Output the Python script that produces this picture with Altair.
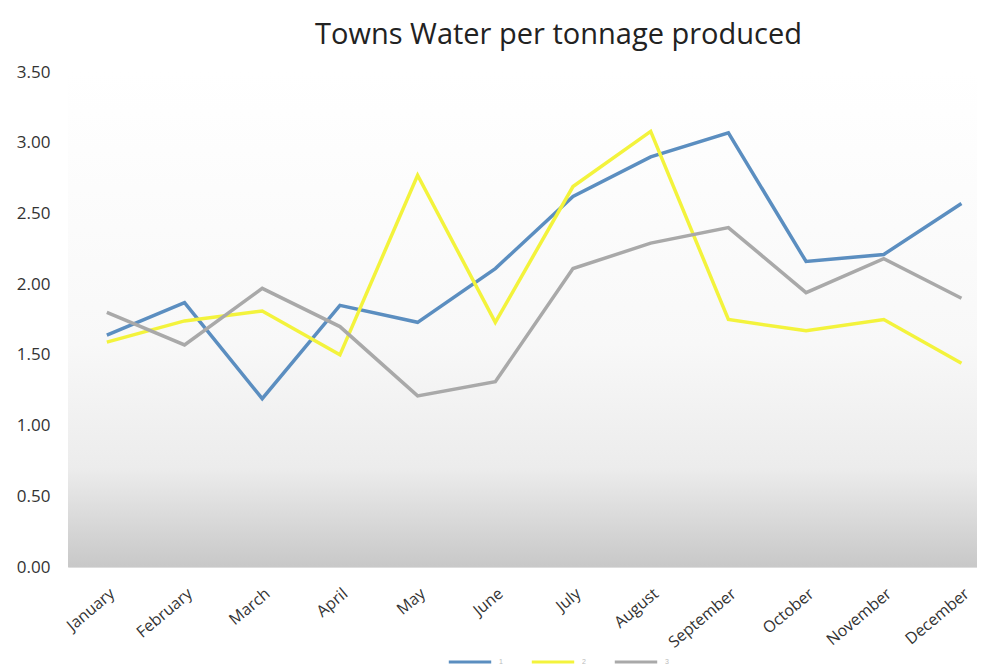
import altair as alt
import pandas as pd

months = ["January", "February", "March", "April", "May", "June",
          "July", "August", "September", "October", "November", "December"]
series_names = ["1", "2", "3"]
blue = [1.64, 1.87, 1.19, 1.85, 1.73, 2.11, 2.62, 2.90, 3.07, 2.16, 2.21, 2.57]
yellow = [1.59, 1.74, 1.81, 1.50, 2.77, 1.73, 2.69, 3.08, 1.75, 1.67, 1.75, 1.44]
grey = [1.80, 1.57, 1.97, 1.70, 1.21, 1.31, 2.11, 2.29, 2.40, 1.94, 2.18, 1.90]
colors = ["#5b8ec0", "#f3f33c", "#a9a9a9"]
y_ticks = [0, 0.5, 1.0, 1.5, 2.0, 2.5, 3.0, 3.5]

rows = []
for i, m in enumerate(months):
    for name, vals in zip(series_names, [blue, yellow, grey]):
        rows.append({"idx": i, "month": m, "series": name, "value": vals[i]})
df = pd.DataFrame(rows)

W, H = 909, 495
FONT = "Open Sans"
label_expr = "[" + ",".join(f"'{m}'" for m in months) + "][datum.value]"

x_enc = alt.X(
    "idx:Q",
    scale=alt.Scale(domain=[-0.5, 11.2], nice=False, zero=False),
    axis=alt.Axis(values=list(range(12)), labelExpr=label_expr, labelAngle=-40,
                  labelAlign="right", labelBaseline="top",
                  title=None, grid=False, domain=False, ticks=False,
                  labelFontSize=16, labelColor="#333", labelPadding=18,
                  labelFont=FONT, labelOverlap=False, labelBound=False),
)
y_enc = alt.Y(
    "value:Q",
    scale=alt.Scale(domain=[0, 3.5], nice=False),
    axis=alt.Axis(values=y_ticks, format=".2f", grid=False, domain=False, ticks=False,
                  labelPadding=18, labelFontSize=17, labelColor="#333",
                  labelFont=FONT, title=None),
)

grad = alt.LinearGradient(
    gradient="linear",
    stops=[alt.GradientStop(offset=0, color="#ffffff"),
           alt.GradientStop(offset=0.55, color="#f8f8f8"),
           alt.GradientStop(offset=0.8, color="#ececec"),
           alt.GradientStop(offset=1, color="#c8c8c8")],
    x1=0, x2=0, y1=0, y2=1,
)

bg = alt.Chart(pd.DataFrame({"a": [0]})).mark_rect(fill=grad, strokeWidth=0).encode(
    x=alt.value(0), x2=alt.value(W),
    y=alt.Y("lo:Q", scale=alt.Scale(domain=[0, 3.5], nice=False)),
    y2="hi:Q",
).transform_calculate(lo="3.5", hi="0")

lines = alt.Chart(df).mark_line(strokeWidth=3.5).encode(
    x=x_enc,
    y=y_enc,
    color=alt.Color(
        "series:N",
        scale=alt.Scale(domain=series_names, range=colors),
        legend=alt.Legend(orient="none", legendX=379, legendY=567, direction="horizontal",
                          title=None, symbolType="stroke", symbolStrokeWidth=3,
                          symbolSize=1800, labelFontSize=7, labelColor="#bbbbbb",
                          labelOffset=6, columnPadding=22),
    ),
    order="idx:Q",
)

chart = alt.layer(bg, lines).properties(
    width=W, height=H,
    title=alt.TitleParams("Towns Water per tonnage produced", fontSize=29, font=FONT,
                          fontWeight="normal", color="#222222", offset=13, dx=36,
                          anchor="middle"),
    autosize=alt.AutoSizeParams(type="none"),
    padding={"left": 60, "top": 64, "right": 0, "bottom": 100},
).configure_view(stroke=None).configure(background="white")

chart.save("out.html", embed_options={"renderer": "svg", "actions": False})
